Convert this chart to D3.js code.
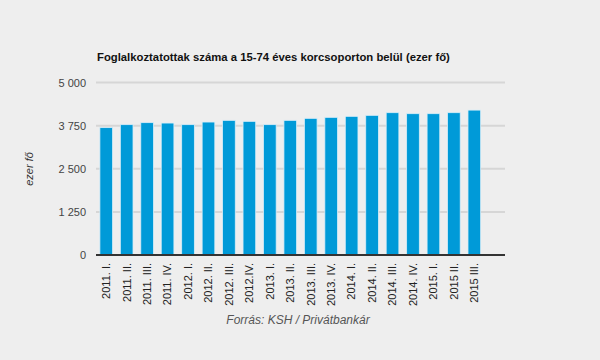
<!DOCTYPE html>
<html><head><meta charset="utf-8">
<script src="https://cdn.jsdelivr.net/npm/d3@7"></script>
<style>html,body{margin:0;padding:0;background:#eeeeee;}svg{display:block;}</style>
</head><body>
<script>
const categories = ["2011. I.","2011. II.","2011. III.","2011. IV.","2012. I.","2012. II.","2012. III.","2012.IV.","2013. I.","2013. II.","2013. III.","2013. IV.","2014. I.","2014. II.","2014. III.","2014. IV.","2015. I.","2015 II.","2015 III."];
const values = [3692,3778,3836,3825,3778,3854,3903,3874,3778,3903,3961,3990,4019,4048,4125,4096,4096,4125,4200];
const yTicks = [0,1250,2500,3750,5000];
const yTickLabels = ["0","1 250","2 500","3 750","5 000"];
const title = "Foglalkoztatottak száma a 15-74 éves korcsoporton belül (ezer fő)";
const yTitle = "ezer fő";
const source = "Forrás: KSH / Privátbankár";

(function () {
const W = 600, H = 360;
const pLeft = 96, pRight = 505, pTop = 82.5, pBottom = 255;
const svg = d3.select("body").append("svg").attr("width", W).attr("height", H)
  .style("font-family", "Arial, 'Liberation Sans', sans-serif");
svg.append("rect").attr("width", W).attr("height", H).attr("fill", "#eeeeee");

const slot = (pRight - pLeft) / (categories.length + 1);
const x = d3.scaleBand().domain(categories).range([pLeft, pLeft + slot * categories.length]).paddingInner(0.38).paddingOuter(0.19);
const y = d3.scaleLinear().domain([0, 5000]).range([pBottom, pTop]);

svg.append("g").selectAll("line").data(yTicks.filter(d => d > 0)).join("line")
  .attr("x1", pLeft).attr("x2", pRight).attr("y1", d => y(d)).attr("y2", d => y(d))
  .attr("stroke", "#d6d6d6").attr("stroke-width", 2);

const yAxis = d3.axisLeft(y).tickValues(yTicks).tickSize(0).tickPadding(10)
  .tickFormat((d, i) => yTickLabels[i]);
const ga = svg.append("g").attr("transform", `translate(${pLeft},0)`).call(yAxis);
ga.select(".domain").remove();
ga.selectAll("text").attr("font-size", 11).attr("fill", "#444").attr("font-family", "Arial, 'Liberation Sans', sans-serif");

svg.append("g").selectAll("rect").data(values).join("rect")
  .attr("x", (d, i) => x(categories[i]))
  .attr("width", x.bandwidth())
  .attr("y", d => y(d))
  .attr("height", d => y(0) - y(d))
  .attr("fill", "#009ad8")
  .attr("stroke", "#d8eef8").attr("stroke-width", 0.8);

svg.append("line").attr("x1", pLeft).attr("x2", pRight).attr("y1", y(0)).attr("y2", y(0))
  .attr("stroke", "#333").attr("stroke-width", 2);

const xAxis = d3.axisBottom(x).tickSize(0).tickPadding(0);
const gx = svg.append("g").attr("transform", `translate(0,${y(0)})`).call(xAxis);
gx.select(".domain").remove();
gx.selectAll("text")
  .attr("font-size", 11).attr("fill", "#222").attr("font-family", "Arial, 'Liberation Sans', sans-serif")
  .attr("transform", "rotate(-90)")
  .attr("text-anchor", "end")
  .attr("x", -8).attr("y", 0).attr("dy", "0.35em");

svg.append("text").attr("x", 97).attr("y", 61).text(title)
  .attr("font-size", 11.3).attr("font-weight", "bold").attr("fill", "#111");

svg.append("text").attr("transform", "translate(33,169) rotate(-90)")
  .attr("text-anchor", "middle").attr("font-size", 11).attr("font-style", "italic")
  .attr("fill", "#333").text(yTitle);

svg.append("text").attr("x", 298).attr("y", 324).attr("text-anchor", "middle")
  .attr("font-size", 12).attr("font-style", "italic").attr("fill", "#555").text(source);
})();
</script>
</body></html>
